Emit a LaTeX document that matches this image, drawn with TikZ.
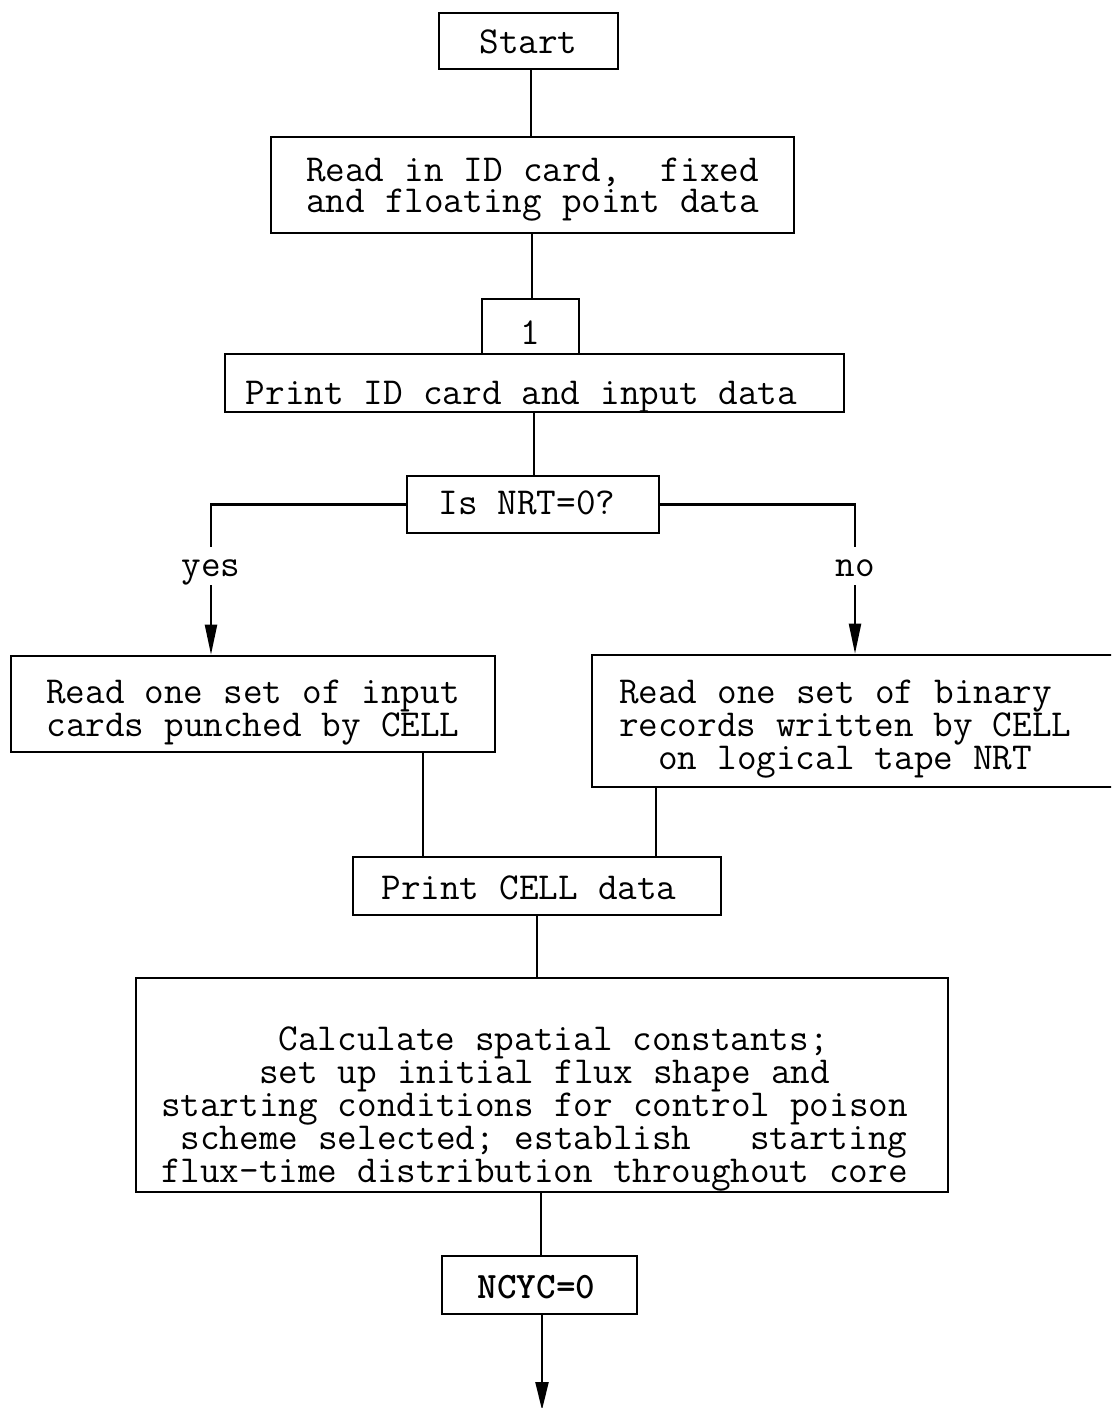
\documentclass[tikz,border=0pt]{standalone}
\usetikzlibrary{arrows.meta}
% typewriter face with fixed-width spaces
\newcommand{\chartface}{\ttfamily\fontsize{38.1}{31.5}\selectfont\frenchspacing
  \fontdimen2\font=20pt\fontdimen3\font=0pt\fontdimen4\font=0pt}
% keep spaces at one character width inside aligned (multi-line) nodes
\newcommand{\monosp}{\spaceskip=20pt\xspaceskip=20pt\relax}
\begin{document}
\begin{tikzpicture}[x=1pt, y=-1pt,
  tt/.style={font=\chartface},
  box/.style={tt, draw, line width=2.6pt, rectangle, inner sep=0pt},
  lbl/.style={tt, inner sep=0pt},
  link/.style={line width=2.2pt},
  tip/.style={-{Triangle[length=30pt,width=12pt]}},
  endtip/.style={-{Triangle[length=28pt,width=13pt]}}]
\useasboundingbox (0,0) rectangle (1111,1408);
\clip (0,0) rectangle (1111,1408);

% boxes of the flow chart
\node[box, minimum width=179pt, minimum height=56pt, text height=24pt, text depth=0pt]
  (start) at (528.5,41) {Start};
\node[box, minimum width=523pt, minimum height=96pt, align=center, text width=523pt,
  text height=0pt, text depth=8pt]
  (read) at (532.5,185) {\monosp Read in ID card,\phantom{0} fixed\\and floating point data};
\node[box, minimum width=97pt, minimum height=55pt, text height=35pt, text depth=0pt]
  (one) at (530.5,326.5) {1};
\node[box, minimum width=619pt, minimum height=58pt, text height=42pt, text depth=0pt]
  (print) at (534.5,383) {\kern-26pt Print ID card and input data};
\node[box, minimum width=252pt, minimum height=57pt, text height=19pt, text depth=0pt]
  (nrt) at (533,504.5) {\kern-12pt Is NRT=0?};
\node[box, minimum width=484pt, minimum height=96pt, align=center, text width=484pt,
  text height=0pt, text depth=2pt]
  (cards) at (253,704) {\monosp Read one set of input\\cards punched by CELL};
\node[box, minimum width=533pt, minimum height=132pt, align=left, text width=479pt, inner xsep=27pt,
  text height=0pt, text depth=36pt]
  (records) at (858.5,721) {\monosp Read one set of binary\\records written by CELL\\\phantom{00}on logical tape NRT};
\node[box, minimum width=368pt, minimum height=58pt, text height=26pt, text depth=0pt]
  (cell) at (537,886) {\kern-16pt Print CELL data};
\node[box, minimum width=812pt, minimum height=214pt, align=left, text width=762pt, inner xsep=25pt,
  text height=0pt, text depth=70pt]
  (calc) at (542,1085) {\monosp\phantom{000000}Calculate spatial constants;\\
  \phantom{00000}set up initial flux shape and\\
  starting conditions for control poison\\
  \phantom{0}scheme selected; establish\phantom{000}starting\\
  flux-time distribution throughout core};
\node[box, minimum width=195pt, minimum height=58pt, text height=26pt, text depth=0pt,
  font=\ttfamily\bfseries\fontsize{37.3}{31.5}\selectfont]
  (ncyc) at (539.5,1285) {\kern-6pt NCYC=0};

% branch labels
\node[lbl, minimum height=38pt, text height=20pt, text depth=0pt] (yes) at (211,566) {yes};
\node[lbl, minimum height=38pt, text height=20pt, text depth=0pt] (no) at (855,566) {no};

% connectors
\draw[link] (start.south -| 531,0) -- (read.north -| 531,0);
\draw[link] (read.south -| 532,0) -- (one.north -| 532,0);
\draw[link] (print.south -| 534,0) -- (nrt.north -| 534,0);
\draw[link] (nrt.west) -| (yes.north);
\draw[link, tip] (yes.south) -- (cards.north -| yes.south);
\draw[link] (nrt.east) -| (no.north);
\draw[link, tip] (no.south) -- (records.north -| no.south);
\draw[link] (cards.south -| 423,0) -- (cell.north -| 423,0);
\draw[link] (records.south -| 656,0) -- (cell.north -| 656,0);
\draw[link] (cell.south -| 537,0) -- (calc.north -| 537,0);
\draw[link] (calc.south -| 541,0) -- (ncyc.north -| 541,0);
\coordinate (out) at (542,1410);
\draw[link, endtip] (ncyc.south -| out) -- (out);
\end{tikzpicture}
\end{document}
